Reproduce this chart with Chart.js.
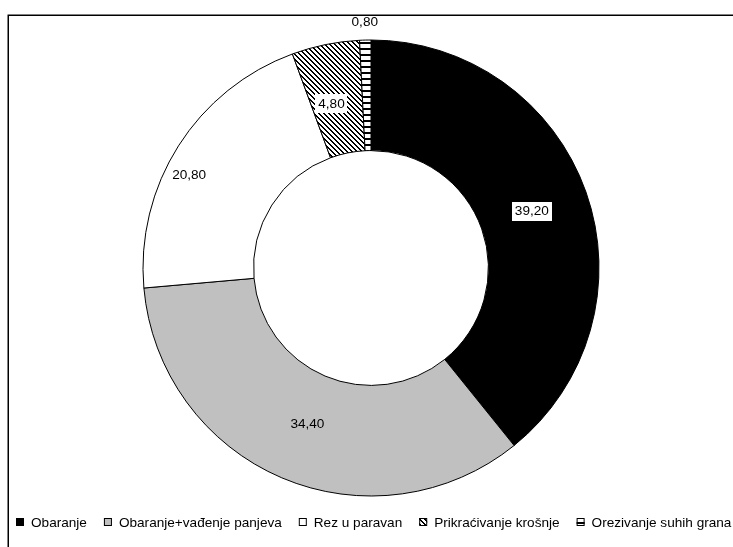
<!DOCTYPE html>
<html>
<head>
<meta charset="utf-8">
<script src="https://cdn.jsdelivr.net/npm/chart.js@4/dist/chart.umd.min.js"></script>
<style>
  html, body { margin: 0; padding: 0; background: #ffffff; }
  canvas { display: block; }
</style>
</head>
<body>
<canvas id="c" width="733" height="547"></canvas>
<script>
// ---- Data ----
const categories = ['Obaranje', 'Obaranje+vađenje panjeva', 'Rez u paravan', 'Prikraćivanje krošnje', 'Orezivanje suhih grana'];
const shares = [39.2, 34.4, 20.8, 4.8, 0.8];

// ---- Patterns ----
function makePattern(size, isInk) {
  const t = document.createElement('canvas');
  t.width = size; t.height = size;
  const g = t.getContext('2d');
  const img = g.createImageData(size, size);
  for (let y = 0; y < size; y++) {
    for (let x = 0; x < size; x++) {
      const i = (y * size + x) * 4;
      const v = isInk(x, y) ? 0 : 255;
      img.data[i] = v; img.data[i + 1] = v; img.data[i + 2] = v; img.data[i + 3] = 255;
    }
  }
  g.putImageData(img, 0, 0);
  return document.getElementById('c').getContext('2d').createPattern(t, 'repeat');
}
const diagPattern = makePattern(5, (x, y) => { const d = ((x - y) % 5 + 5) % 5; return d === 0 || d === 1; });
const horizPattern = makePattern(6, (x, y) => y < 2);

const fills = ['#000000', '#c0c0c0', '#ffffff', diagPattern, horizPattern];

const FONT = '13.6px "Liberation Sans", Arial, sans-serif';

// ---- Plugins ----
const framePlugin = {
  id: 'frame',
  beforeDraw(chart) {
    const ctx = chart.ctx;
    ctx.save();
    ctx.fillStyle = '#ffffff';
    ctx.fillRect(0, 0, chart.width, chart.height);
    ctx.strokeStyle = '#000000';
    ctx.lineWidth = 1.5;
    ctx.strokeRect(8.25, 15.25, 900, 700);
    ctx.restore();
  }
};

const labelPlugin = {
  id: 'sliceLabels',
  afterDatasetsDraw(chart) {
    const ctx = chart.ctx;
    const meta = chart.getDatasetMeta(0);
    const vals = chart.data.datasets[0].data;
    ctx.save();
    ctx.font = FONT;
    ctx.textAlign = 'center';
    ctx.textBaseline = 'middle';
    meta.data.forEach((arc, i) => {
      const text = vals[i].toFixed(2).replace('.', ',');
      const p = arc.getProps(['x', 'y', 'startAngle', 'endAngle', 'innerRadius', 'outerRadius'], true);
      const mid = (p.startAngle + p.endAngle) / 2;
      let r = (p.innerRadius + p.outerRadius) / 2;
      let dx = 0, dy = 0, box = false;
      if (i === 0) { box = true; dx = -2; }
      if (i === 1) { dx = 4; dy = -4; }
      if (i === 2) { dx = -36; dy = -1; }
      if (i === 3) { box = true; dx = -5; dy = 4; }
      if (i === 4) { r = p.outerRadius + 19; }
      const x = p.x + Math.cos(mid) * r + dx;
      const y = p.y + Math.sin(mid) * r + dy;
      if (box) {
        const w = ctx.measureText(text).width;
        ctx.fillStyle = '#ffffff';
        ctx.fillRect(Math.round(x - w / 2 - 3), Math.round(y - 9), Math.round(w + 6), 19);
      }
      ctx.fillStyle = '#000000';
      ctx.fillText(text, x, y + 1);
    });
    ctx.restore();
  }
};

const legendPlugin = {
  id: 'bottomLegend',
  afterDraw(chart) {
    const ctx = chart.ctx;
    const ds = chart.data.datasets[0];
    ctx.save();
    ctx.font = FONT;
    ctx.textBaseline = 'middle';
    ctx.textAlign = 'left';
    let x = 16;
    const y = 522;
    chart.data.labels.forEach((lab, i) => {
      ctx.fillStyle = ds.backgroundColor[i];
      ctx.fillRect(x, y - 4, 8, 8);
      ctx.strokeStyle = '#000000';
      ctx.lineWidth = 1;
      ctx.strokeRect(x + 0.5, y - 3.5, 7, 7);
      ctx.fillStyle = '#000000';
      ctx.fillText(lab, x + 15, y + 1);
      x += 15 + ctx.measureText(lab).width + 17;
    });
    ctx.restore();
  }
};

new Chart(document.getElementById('c'), {
  type: 'doughnut',
  data: {
    labels: categories,
    datasets: [{
      data: shares,
      backgroundColor: fills,
      borderColor: '#000000',
      borderWidth: 1,
      borderAlign: 'center'
    }]
  },
  options: {
    responsive: false,
    animation: false,
    cutout: '51.5%',
    layout: { padding: { top: 39.5, bottom: 50.5, left: 10, right: 1 } },
    plugins: {
      legend: { display: false },
      tooltip: { enabled: false }
    }
  },
  plugins: [framePlugin, labelPlugin, legendPlugin]
});
</script>
</body>
</html>
